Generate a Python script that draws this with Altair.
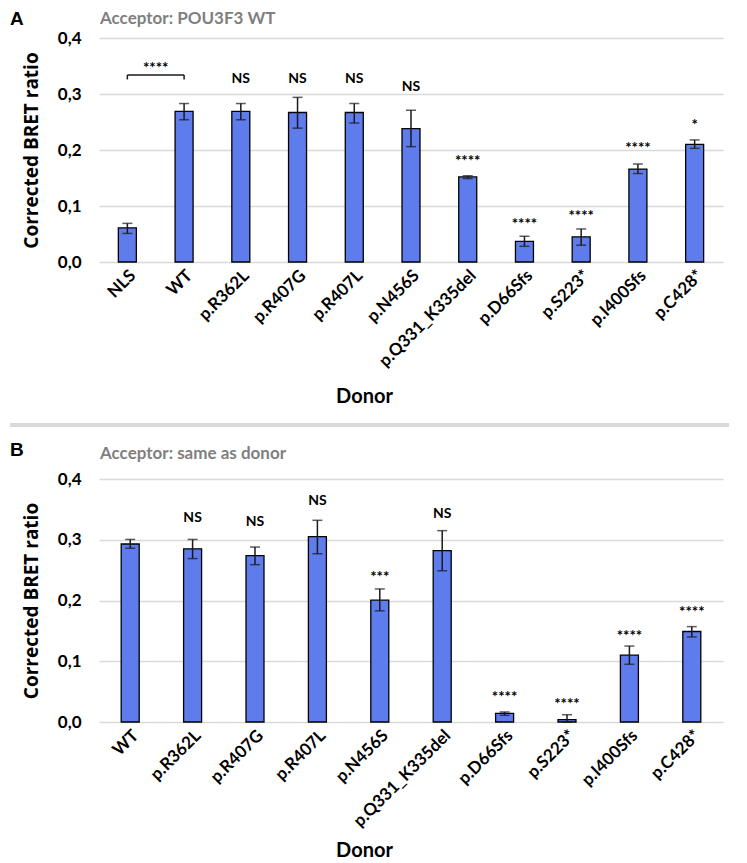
import altair as alt
import pandas as pd

BAR_COLOR = "#5f7cec"
GRID = "#d9d9d9"
LBL_FONT = "Lato"

# ---------------- Panel A data ----------------
cat_a = ["NLS", "WT", "p.R362L", "p.R407G", "p.R407L", "p.N456S",
         "p.Q331_K335del", "p.D66Sfs", "p.S223*", "p.I400Sfs", "p.C428*"]
val_a = [0.061, 0.269, 0.269, 0.267, 0.267, 0.238, 0.152, 0.037, 0.045, 0.166, 0.210]
lo_a = [0.051, 0.254, 0.254, 0.239, 0.248, 0.206, 0.149, 0.028, 0.030, 0.158, 0.203]
hi_a = [0.069, 0.283, 0.283, 0.294, 0.283, 0.271, 0.154, 0.046, 0.059, 0.175, 0.218]
sig_a = ["", "", "NS", "NS", "NS", "NS", "****", "****", "****", "****", "*"]
sigy_a = [None, None, 0.327, 0.327, 0.327, 0.3125, 0.1875, 0.075, 0.090, 0.211, 0.252]
bracket_a = ["NLS", "WT"]
bracket_y = 0.334
bracket_tick_y = 0.326
bracket_text = "****"
bracket_text_y = 0.353

# ---------------- Panel B data ----------------
cat_b = ["WT", "p.R362L", "p.R407G", "p.R407L", "p.N456S",
         "p.Q331_K335del", "p.D66Sfs", "p.S223*", "p.I400Sfs", "p.C428*"]
val_b = [0.293, 0.285, 0.274, 0.305, 0.2005, 0.282, 0.0143, 0.0038, 0.110, 0.149]
lo_b = [0.286, 0.269, 0.259, 0.277, 0.183, 0.249, 0.011, 0.0, 0.095, 0.140]
hi_b = [0.3005, 0.3005, 0.288, 0.332, 0.219, 0.315, 0.0165, 0.012, 0.125, 0.157]
sig_b = ["", "NS", "NS", "NS", "***", "NS", "****", "****", "****", "****"]
sigy_b = [None, 0.336, 0.330, 0.364, 0.246, 0.342, 0.048, 0.036, 0.148, 0.188]

y_ticks = [0.0, 0.1, 0.2, 0.3, 0.4]

PLOT_W = 624


def panel(cats, vals, lo, hi, sig, sigy, height, letter, subtitle, donor_y,
          letter_y, sub_y, bracket=None):
    df = pd.DataFrame({"donor": cats, "value": vals, "lo": lo, "hi": hi,
                       "sig": sig, "sigy": sigy})
    xs = alt.Scale(domain=cats, paddingInner=0, paddingOuter=0)
    ys = alt.Scale(domain=[0, 0.4], nice=False)
    x_axis = alt.Axis(labelAngle=-45, labelFont=LBL_FONT, labelFontSize=17,
                      labelFontWeight="bold", labelColor="black", ticks=False,
                      domain=False, labelPadding=5, title="Donor",
                      titleFont=LBL_FONT, titleFontSize=20, titleFontWeight="bold",
                      titleColor="black", titleX=265, titleY=donor_y,
                      titleBaseline="middle", titleAlign="center")
    y_axis = alt.Axis(values=y_ticks, labelExpr="replace(format(datum.value, '.1f'), '.', ',')",
                      labelFont=LBL_FONT, labelFontSize=17, labelFontWeight="bold",
                      labelColor="black", labelPadding=18, ticks=False, domain=False,
                      grid=True, gridColor=GRID, gridWidth=1.5,
                      title="Corrected BRET ratio", titleFont="Open Sans",
                      titleFontSize=19, titleFontWeight="bold", titleColor="black",
                      titlePadding=16)
    X = alt.X("donor:N", scale=xs, axis=x_axis, sort=cats)
    base = alt.Chart(df)
    bars = base.mark_bar(color=BAR_COLOR, stroke="black", strokeWidth=1.3, width=18).encode(
        x=X, y=alt.Y("value:Q", scale=ys, axis=y_axis))
    err = base.mark_rule(color="#1a1a1a", strokeWidth=1.5).encode(
        x=alt.X("donor:N", scale=xs, sort=cats), y="lo:Q", y2="hi:Q")
    cap_lo = base.mark_tick(color="#1a1a1a", thickness=1.5, size=10).encode(
        x=alt.X("donor:N", scale=xs, sort=cats), y="lo:Q")
    cap_hi = base.mark_tick(color="#1a1a1a", thickness=1.5, size=10).encode(
        x=alt.X("donor:N", scale=xs, sort=cats), y="hi:Q")
    df_ns = df[df["sig"] == "NS"]
    df_star = df[df["sig"].str.startswith("*")]
    ns = alt.Chart(df_ns).mark_text(font=LBL_FONT, fontSize=14, fontWeight="bold",
                                    baseline="middle", color="black").encode(
        x=alt.X("donor:N", scale=xs, sort=cats), y="sigy:Q", text="sig:N")
    stars = alt.Chart(df_star).mark_text(font=LBL_FONT, fontSize=15, fontWeight="bold",
                                         baseline="middle", dy=4, color="black").encode(
        x=alt.X("donor:N", scale=xs, sort=cats), y="sigy:Q", text="sig:N")
    letter_mark = alt.Chart(pd.DataFrame({"t": [letter]})).mark_text(
        font="Liberation Sans", fontSize=19, fontWeight="bold", align="left",
        baseline="middle", color="black").encode(
        x=alt.value(-89), y=alt.value(letter_y), text="t:N")
    sub_mark = alt.Chart(pd.DataFrame({"t": [subtitle]})).mark_text(
        font=LBL_FONT, fontSize=17, fontWeight="bold", align="left",
        baseline="middle", color="#7f7f7f").encode(
        x=alt.value(1), y=alt.value(sub_y), text="t:N")
    layers = [bars, err, cap_lo, cap_hi, ns, stars, letter_mark, sub_mark]
    if bracket is not None:
        bdf = pd.DataFrame({"a": [bracket[0]], "b": [bracket[1]], "y": [bracket_y],
                            "t": [bracket_text], "tyy": [bracket_text_y]})
        tdf = pd.DataFrame({"donor": bracket, "y": [bracket_y] * 2, "ty": [bracket_tick_y] * 2})
        hline = alt.Chart(bdf).mark_rule(color="#1a1a1a", strokeWidth=1.5).encode(
            x=alt.X("a:N", scale=xs, sort=cats), x2="b:N", y="y:Q")
        ticks = alt.Chart(tdf).mark_rule(color="#1a1a1a", strokeWidth=1.5).encode(
            x=alt.X("donor:N", scale=xs, sort=cats), y="y:Q", y2="ty:Q")
        btxt = alt.Chart(bdf).mark_text(font=LBL_FONT, fontSize=15, fontWeight="bold",
                                        baseline="middle", dy=4, color="black").encode(
            x=alt.X("a:N", scale=xs, sort=cats, bandPosition=1), y="tyy:Q", text="t:N")
        sep = alt.Chart(pd.DataFrame({"v": [0]})).mark_rule(color=GRID, strokeWidth=4).encode(
            x=alt.value(-89), x2=alt.value(630), y=alt.value(height + 163))
        layers += [hline, ticks, btxt, sep]
    return alt.layer(*layers).properties(width=PLOT_W, height=height)


pa = panel(cat_a, val_a, lo_a, hi_a, sig_a, sigy_a, 224, "A", "Acceptor: POU3F3 WT", 134,
           -19, -19, bracket=bracket_a)
pb = panel(cat_b, val_b, lo_b, hi_b, sig_b, sigy_b, 243, "B", "Acceptor: same as donor", 128,
           -29, -25)

chart = alt.vconcat(pa, pb, spacing=14).properties(
    padding={"left": 0, "top": 2, "right": 0, "bottom": 0},
    background="white"
).configure_view(stroke=None)

chart.save("out.html", embed_options={"renderer": "svg", "actions": False})
